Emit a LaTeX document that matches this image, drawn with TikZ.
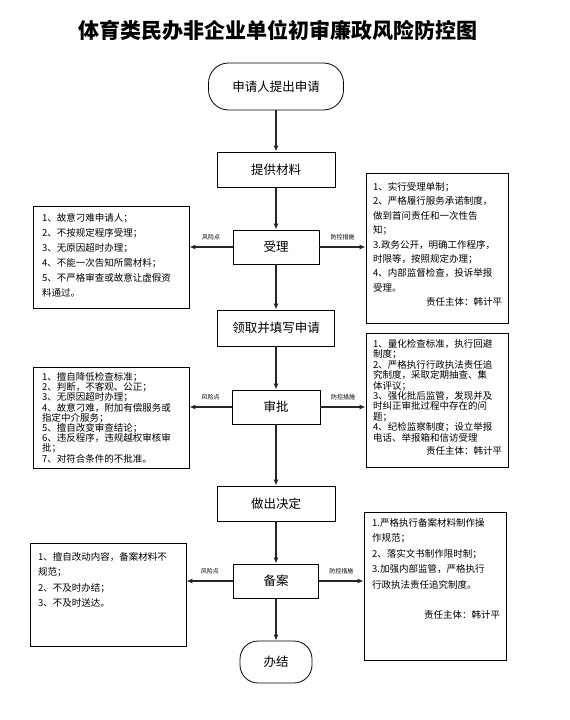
\documentclass[tikz,border=0pt]{standalone}
\usepackage{fontspec}
\setmainfont{Noto Sans CJK SC}
\usetikzlibrary{arrows.meta}
\begin{document}
\begin{tikzpicture}[x=1pt,y=-1pt,
  main/.style={draw, line width=0.8pt, font=\fontsize{12.5}{14}\selectfont, inner sep=0pt},
  term/.style={main, rounded corners=20pt},
  side/.style={draw, line width=0.8pt, inner sep=0pt},
  body/.style={anchor=north west, inner sep=0pt, align=left},
  lab/.style={font=\fontsize{6}{6}\selectfont, inner sep=0pt},
  flow/.style={-{Latex[length=6pt,width=5pt]}, line width=1.3pt, draw=black!85}
]
\useasboundingbox (0,0) rectangle (570,720);

\node[font=\fontsize{21}{21}\selectfont\bfseries, inner sep=0pt] (title) at (278,30) {体育类民办非企业单位初审廉政风险防控图};

% main flow
\node[term, minimum width=135pt, minimum height=47pt] (start) at (276,86.5) {申请人提出申请};
\node[main, minimum width=118pt, minimum height=35pt] (tigong) at (276,169.5) {提供材料};
\node[main, minimum width=86pt, minimum height=34pt] (shouli) at (276,247) {受理};
\node[main, minimum width=117pt, minimum height=36pt] (lingqu) at (276,328) {领取并填写申请};
\node[main, minimum width=88pt, minimum height=34pt] (shenpi) at (276,407) {审批};
\node[main, minimum width=118pt, minimum height=35pt] (zuochu) at (276,503.5) {做出决定};
\node[main, minimum width=85pt, minimum height=34pt] (beian) at (276,581) {备案};
\node[term, minimum width=72pt, minimum height=42pt, rounded corners=18pt] (banjie) at (276,662) {办结};

\draw[flow] (start.south) -- (tigong.north);
\draw[flow] (tigong.south) -- (shouli.north);
\draw[flow] (shouli.south) -- (lingqu.north);
\draw[flow] (lingqu.south) -- (shenpi.north);
\draw[flow] (shenpi.south) -- (zuochu.north);
\draw[flow] (zuochu.south) -- (beian.north);
\draw[flow] (beian.south) -- (banjie.north);

% side boxes
\node[side, minimum width=156pt, minimum height=102pt] (lb1) at (111,257) {};
\node[side, minimum width=142pt, minimum height=150pt] (rb1) at (437,248) {};
\node[side, minimum width=156pt, minimum height=101pt] (lb2) at (111,417.5) {};
\node[side, minimum width=142pt, minimum height=134pt] (rb2) at (437,400) {};
\node[side, minimum width=156pt, minimum height=103pt] (lb3) at (108,594.5) {};
\node[side, minimum width=142pt, minimum height=148pt] (rb3) at (435,586) {};

% texts
\node[body, text width=142pt, font=\fontsize{9.5}{15}\selectfont] (t1) at (42,213.2) {1、故意刁难申请人；\\2、不按规定程序受理；\\3、无原因超时办理；\\4、不能一次告知所需材料；\\5、不严格审查或故意让虚假资\\料通过。};

\node[body, text width=129pt, font=\fontsize{9.5}{14.4}\selectfont] (t2) at (373,182.2) {1、实行受理单制；\\2、严格履行服务承诺制度，\\做到首问责任和一次性告\\知；\\3.政务公开，明确工作程序，\\时限等，按照规定办理；\\4、内部监督检查，投诉举报\\受理。\\\hspace*{0pt plus 1filll}责任主体：韩计平};

\node[body, text width=142pt, font=\fontsize{9.5}{10.2}\selectfont] (t3) at (42,372.2) {1、擅自降低检查标准；\\2、判断，不客观、公正；\\3、无原因超时办理；\\4、故意刁难，附加有偿服务或\\指定中介服务；\\5、擅自改变审查结论；\\6、违反程序，违规越权审核审\\批；\\7、对符合条件的不批准。};

\node[body, text width=129pt, font=\fontsize{9.5}{10.4}\selectfont] (t4) at (373,339.2) {1、量化检查标准，执行回避\\制度；\\2、严格执行行政执法责任追\\究制度，采取定期抽查、集\\体评议；\\3、强化批后监管，发现并及\\时纠正审批过程中存在的问\\题；\\4、纪检监察制度；设立举报\\电话、举报箱和信访受理\\[3pt]\hspace*{0pt plus 1filll}责任主体：韩计平};

\node[body, text width=142pt, font=\fontsize{9.5}{15.3}\selectfont] (t5) at (38,552.2) {1、擅自改动内容，备案材料不\\规范；\\2、不及时办结；\\3、不及时送达。};

\node[body, text width=128pt, font=\fontsize{9.5}{15.4}\selectfont] (t6) at (372,518.2) {1.严格执行备案材料制作操\\作规范；\\2、落实文书制作限时制；\\3.加强内部监管，严格执行\\行政执法责任追究制度。\\[15.4pt]\hspace*{0pt plus 1filll}责任主体：韩计平};

% side arrows
\draw[flow] (shouli.west) -- (lb1.east |- shouli.west) node[lab, midway, above=6pt] {风险点};
\draw[flow] (shouli.east) -- (rb1.west |- shouli.east) node[lab, midway, above=6pt] {防控措施};
\draw[flow] (shenpi.west) -- (lb2.east |- shenpi.west) node[lab, midway, above=6pt] {风险点};
\draw[flow] (shenpi.east) -- (rb2.west |- shenpi.east) node[lab, midway, above=6pt] {防控措施};
\draw[flow] (beian.west) -- (lb3.east |- beian.west) node[lab, midway, above=6pt] {风险点};
\draw[flow] (beian.east) -- (rb3.west |- beian.east) node[lab, midway, above=6pt] {防控措施};
\end{tikzpicture}
\end{document}
